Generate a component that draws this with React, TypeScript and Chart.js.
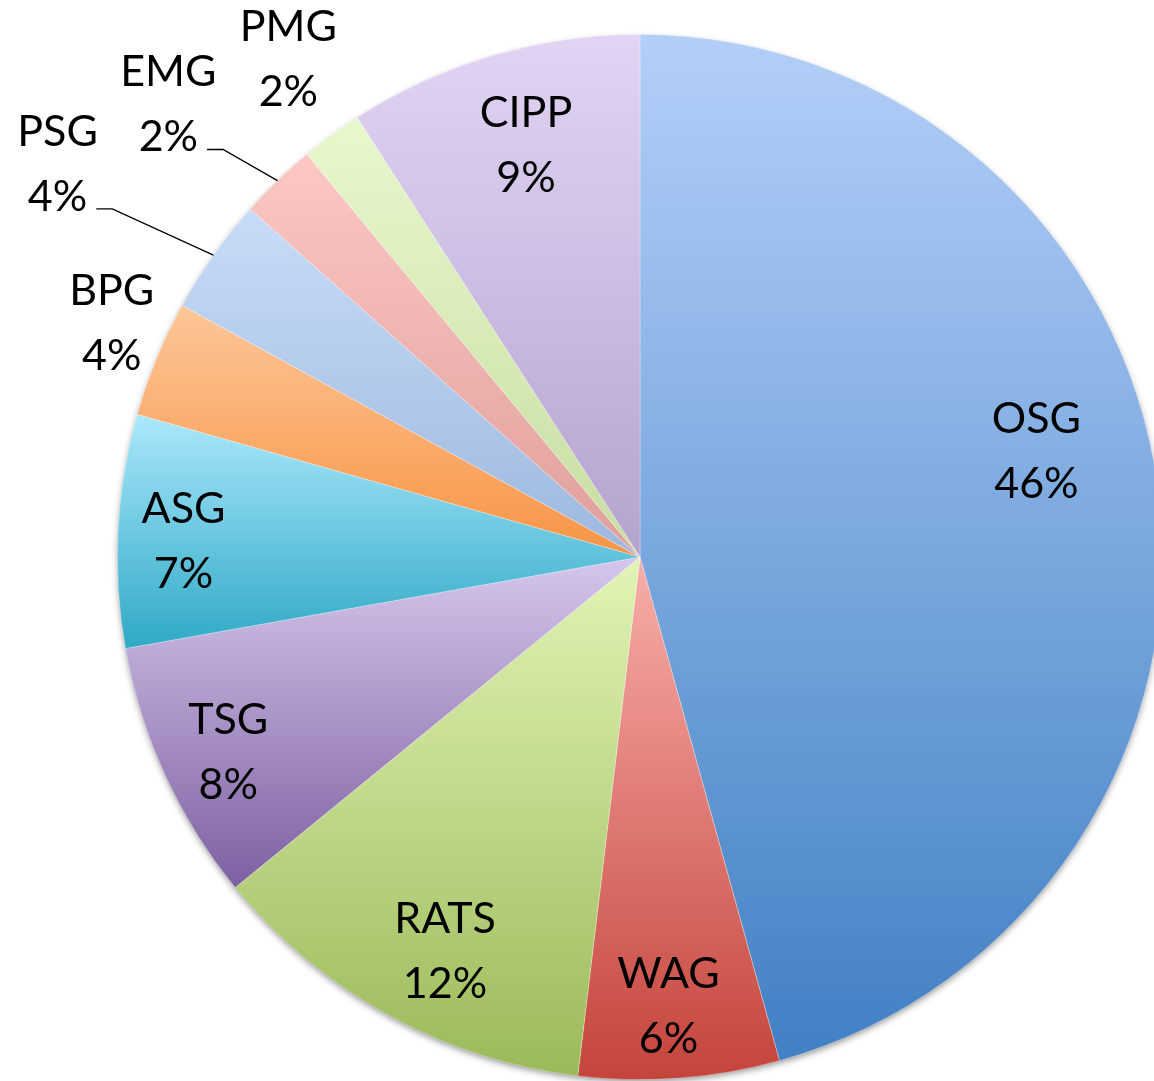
import React, { useEffect, useRef } from "react";
import { Chart, registerables } from "chart.js";

Chart.register(...registerables);

const categories = ["OSG", "WAG", "RATS", "TSG", "ASG", "BPG", "PSG", "EMG", "PMG", "CIPP"];
const shares = [45.7, 6.2, 12.2, 8.1, 7.2, 3.6, 3.6, 2.4, 1.9, 9.1];

const topColors = ["#b3cff8", "#f8aea9", "#e1f4b6", "#d6c6ec", "#abe8fc", "#fdc698", "#c8dcf8", "#fcc7c4", "#e7f8cc", "#e2d4f4"];
const bottomColors = ["#4180c4", "#c4443b", "#9aba58", "#7d60a1", "#2fa9c5", "#f79444", "#9db7de", "#df9f9b", "#c7dda1", "#b4a3ce"];

// label placement: angle offset (deg) from slice mid-angle, radius factor, leader line
const labelPlacement = [
  { da: -7.2, rf: 0.785, leader: false },
  { da: 0.7, rf: 0.862, leader: false },
  { da: -2.5, rf: 0.842, leader: false },
  { da: -0.7, rf: 0.872, leader: false },
  { da: -1.0, rf: 0.874, leader: false },
  { da: 1.5, rf: 1.105, leader: false },
  { da: -1.3, rf: 1.344, leader: true },
  { da: -2.3, rf: 1.25, leader: true },
  { da: 0.9, rf: 1.165, leader: false },
  { da: 0.9, rf: 0.817, leader: false },
];

const FONT = "43px Lato";
const LINE_GAP = 65;

function sliceBounds(chart: any, index: number) {
  const area = chart.chartArea;
  const cx = (area.left + area.right) / 2;
  const cy = (area.top + area.bottom) / 2;
  const r = Math.min(area.right - area.left, area.bottom - area.top) / 2;
  const total = shares.reduce((a, b) => a + b, 0);
  let cum = 0;
  for (let i = 0; i < index; i++) cum += shares[i];
  const a0 = -Math.PI / 2 + (2 * Math.PI * cum) / total;
  const a1 = -Math.PI / 2 + (2 * Math.PI * (cum + shares[index])) / total;
  const ys = [cy, cy + r * Math.sin(a0), cy + r * Math.sin(a1)];
  for (let k = -4; k <= 8; k++) {
    const a = (k * Math.PI) / 2;
    if (a > a0 && a < a1) ys.push(cy + r * Math.sin(a));
  }
  return { minY: Math.min(...ys), maxY: Math.max(...ys) };
}

const shadowPlugin = {
  id: "pieShadow",
  beforeDatasetsDraw(chart: any) {
    const arc = chart.getDatasetMeta(0).data[0];
    if (!arc) return;
    const ctx = chart.ctx;
    ctx.save();
    ctx.beginPath();
    ctx.arc(arc.x, arc.y, arc.outerRadius - 1, 0, Math.PI * 2);
    ctx.shadowColor = "rgba(0,0,0,0.45)";
    ctx.shadowBlur = 7;
    ctx.shadowOffsetY = 3;
    ctx.fillStyle = "#ffffff";
    ctx.fill();
    ctx.restore();
  },
};

const labelPlugin = {
  id: "sliceLabels",
  afterDatasetsDraw(chart: any) {
    const ctx = chart.ctx;
    const meta = chart.getDatasetMeta(0);
    const total = shares.reduce((a, b) => a + b, 0);
    ctx.save();
    ctx.font = FONT;
    ctx.fillStyle = "#000000";
    ctx.textAlign = "center";
    ctx.textBaseline = "middle";
    meta.data.forEach((arc: any, i: number) => {
      const p = labelPlacement[i];
      const mid = (arc.startAngle + arc.endAngle) / 2;
      const a = mid + (p.da * Math.PI) / 180;
      const x = arc.x + Math.cos(a) * arc.outerRadius * p.rf;
      const y = arc.y + Math.sin(a) * arc.outerRadius * p.rf;
      const pct = Math.round((shares[i] / total) * 100) + "%";
      ctx.fillText(categories[i], x, y - LINE_GAP / 2);
      ctx.fillText(pct, x, y + LINE_GAP / 2);
      if (p.leader) {
        const w = ctx.measureText(pct).width;
        const sx = x + w / 2 + 9;
        const sy = y + LINE_GAP / 2 + 12;
        const ex = arc.x + Math.cos(mid) * arc.outerRadius;
        const ey = arc.y + Math.sin(mid) * arc.outerRadius;
        ctx.beginPath();
        ctx.moveTo(sx, sy);
        ctx.lineTo(sx + 16, sy);
        ctx.lineTo(ex, ey);
        ctx.strokeStyle = "#000000";
        ctx.lineWidth = 1.3;
        ctx.stroke();
      }
    });
    ctx.restore();
  },
};

export default function App() {
  const canvasRef = useRef<HTMLCanvasElement | null>(null);

  useEffect(() => {
    document.body.style.margin = "0";
    const canvas = canvasRef.current;
    if (!canvas) return;
    const chart = new Chart(canvas, {
      type: "pie",
      data: {
        labels: categories,
        datasets: [
          {
            data: shares,
            backgroundColor: (c: any) => {
              const chart = c.chart;
              const i = c.dataIndex;
              if (!chart.chartArea || i === undefined) return topColors[i ?? 0];
              const { minY, maxY } = sliceBounds(chart, i);
              const g = chart.ctx.createLinearGradient(0, minY, 0, maxY);
              g.addColorStop(0, topColors[i]);
              g.addColorStop(1, bottomColors[i]);
              return g;
            },
            borderColor: "rgba(255,255,255,0.35)",
            borderWidth: 0.8,
          },
        ],
      },
      options: {
        responsive: false,
        animation: false,
        layout: { padding: { left: 117, right: 37, top: 34, bottom: 1 } },
        plugins: {
          legend: { display: false },
          tooltip: { enabled: false },
        },
      },
      plugins: [shadowPlugin, labelPlugin],
    });
    return () => chart.destroy();
  }, []);

  return (
    <div style={{ width: 1154, height: 1081, overflow: "hidden", position: "relative", background: "#ffffff" }}>
      <canvas ref={canvasRef} width={1200} height={1081} style={{ display: "block" }} />
    </div>
  );
}
